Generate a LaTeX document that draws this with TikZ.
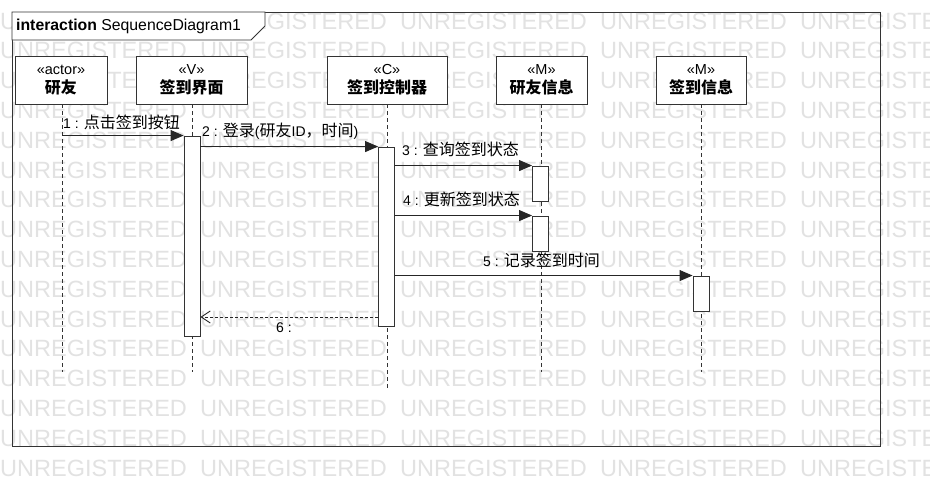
\documentclass[tikz,border=0pt]{standalone}
\usepackage{fontspec}
\setmainfont{Liberation Sans}
\newfontfamily\cjk{Noto Sans CJK SC}
\usetikzlibrary{arrows.meta}

\definecolor{linec}{HTML}{333333}
\definecolor{markc}{HTML}{E2E2E2}

\tikzset{
  lifebox/.style={draw=linec, fill=white, line width=0.9pt, minimum width=#1,
    minimum height=48pt, inner sep=0pt, align=center,
    font=\fontsize{14.5}{19}\selectfont},
  actbar/.style={draw=linec, fill=white, line width=0.9pt, minimum width=16pt,
    minimum height=#1, inner sep=0pt},
  lifeline/.style={draw=linec, line width=0.8pt, dash pattern=on 4pt off 3pt},
  msg/.style={draw=black!85, line width=0.9pt, -{Triangle[length=13pt,width=11pt]}},
  reply/.style={draw=black!85, line width=0.9pt, dash pattern=on 3pt off 2pt,
    -{Straight Barb[length=9pt,width=12pt,line width=0.9pt]}},
  msglabel/.style={anchor=base west, inner sep=0pt, font=\fontsize{14}{16}\selectfont},
  wmtext/.style={anchor=west, inner sep=0pt, text=markc, font=\fontsize{23.5}{26}\selectfont},
}

% stereotype line over a bold lifeline name
\newcommand{\boxtext}[2]{«#1»\\{\fontsize{16}{19}\selectfont\cjk\bfseries #2}}
% Chinese run inside a message label
\newcommand{\zh}[1]{{\fontsize{16}{16}\selectfont\cjk #1}}

\begin{document}
\begin{tikzpicture}[x=1pt,y=-1pt]
  \useasboundingbox (0,0) rectangle (930,496);
  \fill[white] (0,0) rectangle (930,496);

  % tiled licence watermark in the background
  \foreach \k in {0,...,15}{
    \foreach \j in {0,...,4}{
      \node[wmtext] (wm-\k-\j) at (\j*200, 21+29.8*\k) {UNREGISTERED};
    }
  }

  % interaction frame and its title tab
  \draw[linec, line width=0.9pt] (12,12) rectangle (880,446);
  \draw[linec, line width=0.9pt, fill=white]
    (12,12) -- (265,12) -- (265,26) -- (251,40) -- (12,40) -- cycle;
  \node[anchor=west, inner sep=0pt, font=\fontsize{15.8}{18}\selectfont] (title) at (16,26)
    {\textbf{interaction} SequenceDiagram1};

  % lifeline heads
  \node[lifebox=92pt] (u)  at (61,80)    {\boxtext{actor}{研友}};
  \node[lifebox=111pt] (v)  at (191.5,80) {\boxtext{V}{签到界面}};
  \node[lifebox=120pt] (c)  at (387,80)   {\boxtext{C}{签到控制器}};
  \node[lifebox=91pt] (m1) at (541.5,80) {\boxtext{M}{研友信息}};
  \node[lifebox=90pt] (m2) at (701,80)   {\boxtext{M}{签到信息}};

  % lifeline ends
  \coordinate (ue)  at (62,372);
  \coordinate (ve)  at (192,372);
  \coordinate (ce)  at (387,388);
  \coordinate (m1e) at (541,372);
  \coordinate (m2e) at (701,372);

  \draw[lifeline] (u.south -| ue) -- (ue);
  \draw[lifeline] (v.south -| ve) -- (ve);
  \draw[lifeline] (c.south -| ce) -- (ce);
  \draw[lifeline] (m1.south -| m1e) -- (m1e);
  \draw[lifeline] (m2.south -| m2e) -- (m2e);

  % activation bars
  \node[actbar=200pt] (av)  at (192,236)   {};
  \node[actbar=179pt] (ac)  at (386.5,236.5) {};
  \node[actbar=35pt]  (am1) at (540.5,183.5) {};
  \node[actbar=35pt]  (am2) at (540.5,233.5) {};
  \node[actbar=35pt]  (as)  at (701,293.5)   {};

  % messages
  \draw[msg] (ue |- av.north) -- (av.north west);
  \node[msglabel] (l1) at (63,128) {1 : \zh{点击签到按钮}};

  \draw[msg] (av.east |- ac.north) -- (ac.north west);
  \node[msglabel] (l2) at (202,136) {2 : \zh{登录}(\zh{研友}ID\zh{，时间})};

  \draw[msg] (ac.east |- am1.north) -- (am1.north west);
  \node[msglabel] (l3) at (402,155) {3 : \zh{查询签到状态}};

  \draw[msg] (ac.east |- am2.north) -- (am2.north west);
  \node[msglabel] (l4) at (403,205) {4 : \zh{更新签到状态}};

  \draw[msg] (ac.east |- as.north) -- (as.north west);
  \node[msglabel] (l5) at (483,266) {5 : \zh{记录签到时间}};

  \coordinate (r6) at (300,317);
  \draw[reply] (ac.west |- r6) -- (av.east |- r6);
  \node[msglabel] (l6) at (276,332) {6 :};
\end{tikzpicture}
\end{document}
